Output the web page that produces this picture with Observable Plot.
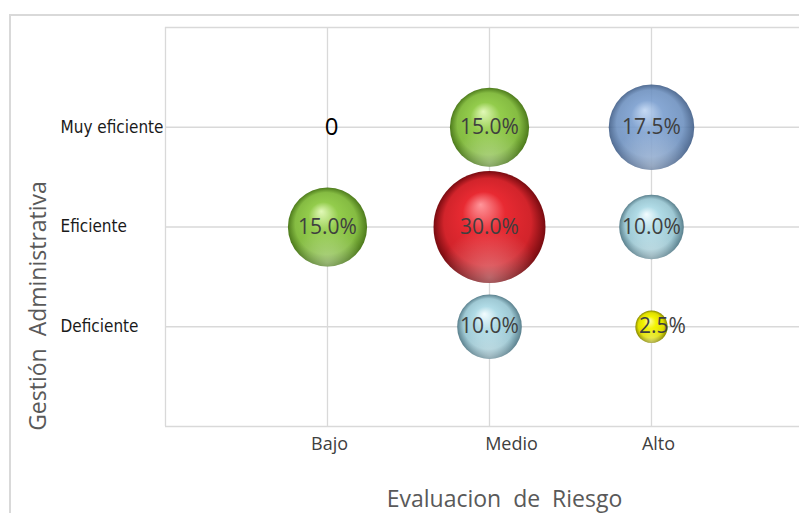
<!DOCTYPE html>
<html>
<head>
<meta charset="utf-8">
<script src="https://cdn.jsdelivr.net/npm/d3@7"></script>
<script src="https://cdn.jsdelivr.net/npm/@observablehq/plot@0.6"></script>
<style>
  html, body { margin: 0; padding: 0; background: #ffffff; }
  #chart { position: relative; width: 799px; height: 513px; overflow: hidden; }
  #border { position: absolute; left: 9px; top: 14px; width: 820px; height: 540px;
            border-left: 2px solid #d9d9d9; border-top: 2px solid #d9d9d9; }
  #chart svg { position: absolute; left: 0; top: 0; }
  #chart svg text { white-space: pre; }
</style>
</head>
<body>
<div id="chart"><div id="border"></div></div>
<script>
// Categories on each axis
const riesgo = ["Bajo", "Medio", "Alto"];
const gestion = ["Deficiente", "Eficiente", "Muy eficiente"];

// One bubble per combination that was observed
const bubbleRiesgo = ["Bajo", "Bajo", "Medio", "Medio", "Medio", "Alto", "Alto", "Alto"];
const bubbleGestion = ["Muy eficiente", "Eficiente", "Muy eficiente", "Eficiente", "Deficiente", "Muy eficiente", "Eficiente", "Deficiente"];
const porcentaje = [0, 15, 15, 30, 10, 17.5, 10, 2.5];

// Axis titles
const tituloX = "Evaluacion  de  Riesgo";
const tituloY = "Gestión  Administrativa";

const data = porcentaje.map((v, i) => ({
  riesgo: bubbleRiesgo[i],
  gestion: bubbleGestion[i],
  valor: v
}));

// Sphere shading per bubble size: highlight, body, rim
const tones = {
  yellow:    ["#ffffb8", "#f4f400", "#8a8a00"],
  lightblue: ["#f2fcff", "#b0dbe6", "#5a808d"],
  green:     ["#e2f9b8", "#93cc4c", "#4d7a1c"],
  blue:      ["#bdd4f2", "#769bcd", "#3b5984"],
  red:       ["#ff969b", "#e82a32", "#780b10"]
};
const toneValues = [2.5, 10, 15, 17.5, 30];
const toneNames = ["yellow", "lightblue", "green", "blue", "red"];

const px = d => riesgo.indexOf(d.riesgo) + 1;
const py = d => gestion.indexOf(d.gestion) + 1;
const fmt = v => v === 0 ? "0" : v.toFixed(1) + "%";

const grid = {stroke: "#d9d9d9", strokeOpacity: 1, strokeWidth: 1.3};
const labelNudge = [2, 22, 7];

const plot = Plot.plot({
  width: 799,
  height: 513,
  marginLeft: 165,
  marginRight: 0,
  marginTop: 27,
  marginBottom: 87,
  style: {fontFamily: "'Open Sans', sans-serif", background: "transparent", overflow: "hidden"},
  x: {domain: [0, 4], range: [165, 813], axis: null},
  y: {domain: [0, 4], range: [426, 27], axis: null},
  r: {type: "sqrt", domain: [0, 30], range: [0, 56]},
  color: {type: "ordinal", domain: toneValues, range: toneNames.map(n => `url(#sphere-${n})`)},
  marks: [
    Plot.gridX({ticks: [1, 2, 3, 4], ...grid}),
    Plot.gridY({ticks: [1, 2, 3, 4], ...grid}),
    Plot.ruleX([0], {...grid}),
    Plot.ruleY([0], {...grid}),
    Plot.axisY({
      ticks: [1, 2, 3],
      tickFormat: d => gestion[d - 1],
      tickSize: 0,
      tickPadding: 105,
      textAnchor: "start",
      fontSize: 17,
      fontFamily: "'Liberation Sans Narrow', 'DejaVu Sans Condensed', sans-serif",
      fill: "#1a1a1a",
      label: null
    }),
    ...riesgo.map((name, i) => Plot.axisX({
      ticks: [i + 1],
      tickFormat: () => name,
      tickSize: 0,
      tickPadding: 11,
      dx: labelNudge[i],
      fontSize: 18,
      fill: "#404040",
      label: null
    })),
    Plot.dot(data.filter(d => d.valor > 0), {
      x: px, y: py, r: "valor", fill: "valor", stroke: null,
      fillOpacity: d => d.valor === 17.5 ? 0.88 : 1
    }),
    Plot.dot(data.filter(d => d.valor > 0), {
      x: px, y: py, r: "valor", fill: "url(#sphere-glow)", stroke: null
    }),
    Plot.text(data.filter(d => d.valor >= 5), {
      x: px, y: py, text: d => fmt(d.valor), fontSize: 21, fill: "#3f3f3f"
    }),
    Plot.text(data.filter(d => d.valor > 0 && d.valor < 5), {
      x: px, y: py, text: d => fmt(d.valor), fontSize: 21, fill: "#3f3f3f", dx: 11
    }),
    Plot.text(data.filter(d => d.valor === 0), {
      x: px, y: py, text: d => fmt(d.valor), fontSize: 24, fill: "#000000", dx: 4
    }),
    Plot.text([tituloX], {
      frameAnchor: "bottom", textAnchor: "middle", lineAnchor: "middle",
      dx: 22, dy: 73, fontSize: 23, fill: "#595959"
    }),
    Plot.text([tituloY], {
      frameAnchor: "left", textAnchor: "middle", lineAnchor: "middle", rotate: -90,
      dx: -127, dy: 79, fontSize: 23, fill: "#595959"
    })
  ]
});

// Radial gradients that give each bubble its glossy sphere look
const defs = d3.select(plot).insert("defs", ":first-child");
for (const name of toneNames) {
  const [hi, body, rim] = tones[name];
  const g = defs.append("radialGradient")
    .attr("id", `sphere-${name}`)
    .attr("cx", "0.5").attr("cy", "0.5").attr("r", "0.5")
    .attr("fx", "0.42").attr("fy", "0.3");
  g.append("stop").attr("offset", "0").attr("stop-color", hi);
  g.append("stop").attr("offset", "0.38").attr("stop-color", body);
  g.append("stop").attr("offset", "0.78").attr("stop-color", d3.interpolateRgb(body, rim)(0.2));
  g.append("stop").attr("offset", "1").attr("stop-color", rim);
}
const glow = defs.append("radialGradient")
  .attr("id", "sphere-glow")
  .attr("cx", "0.5").attr("cy", "0.95").attr("r", "0.45");
glow.append("stop").attr("offset", "0").attr("stop-color", "#ffffff").attr("stop-opacity", 0.35);
glow.append("stop").attr("offset", "1").attr("stop-color", "#ffffff").attr("stop-opacity", 0);

document.getElementById("chart").appendChild(plot);
</script>
</body>
</html>
